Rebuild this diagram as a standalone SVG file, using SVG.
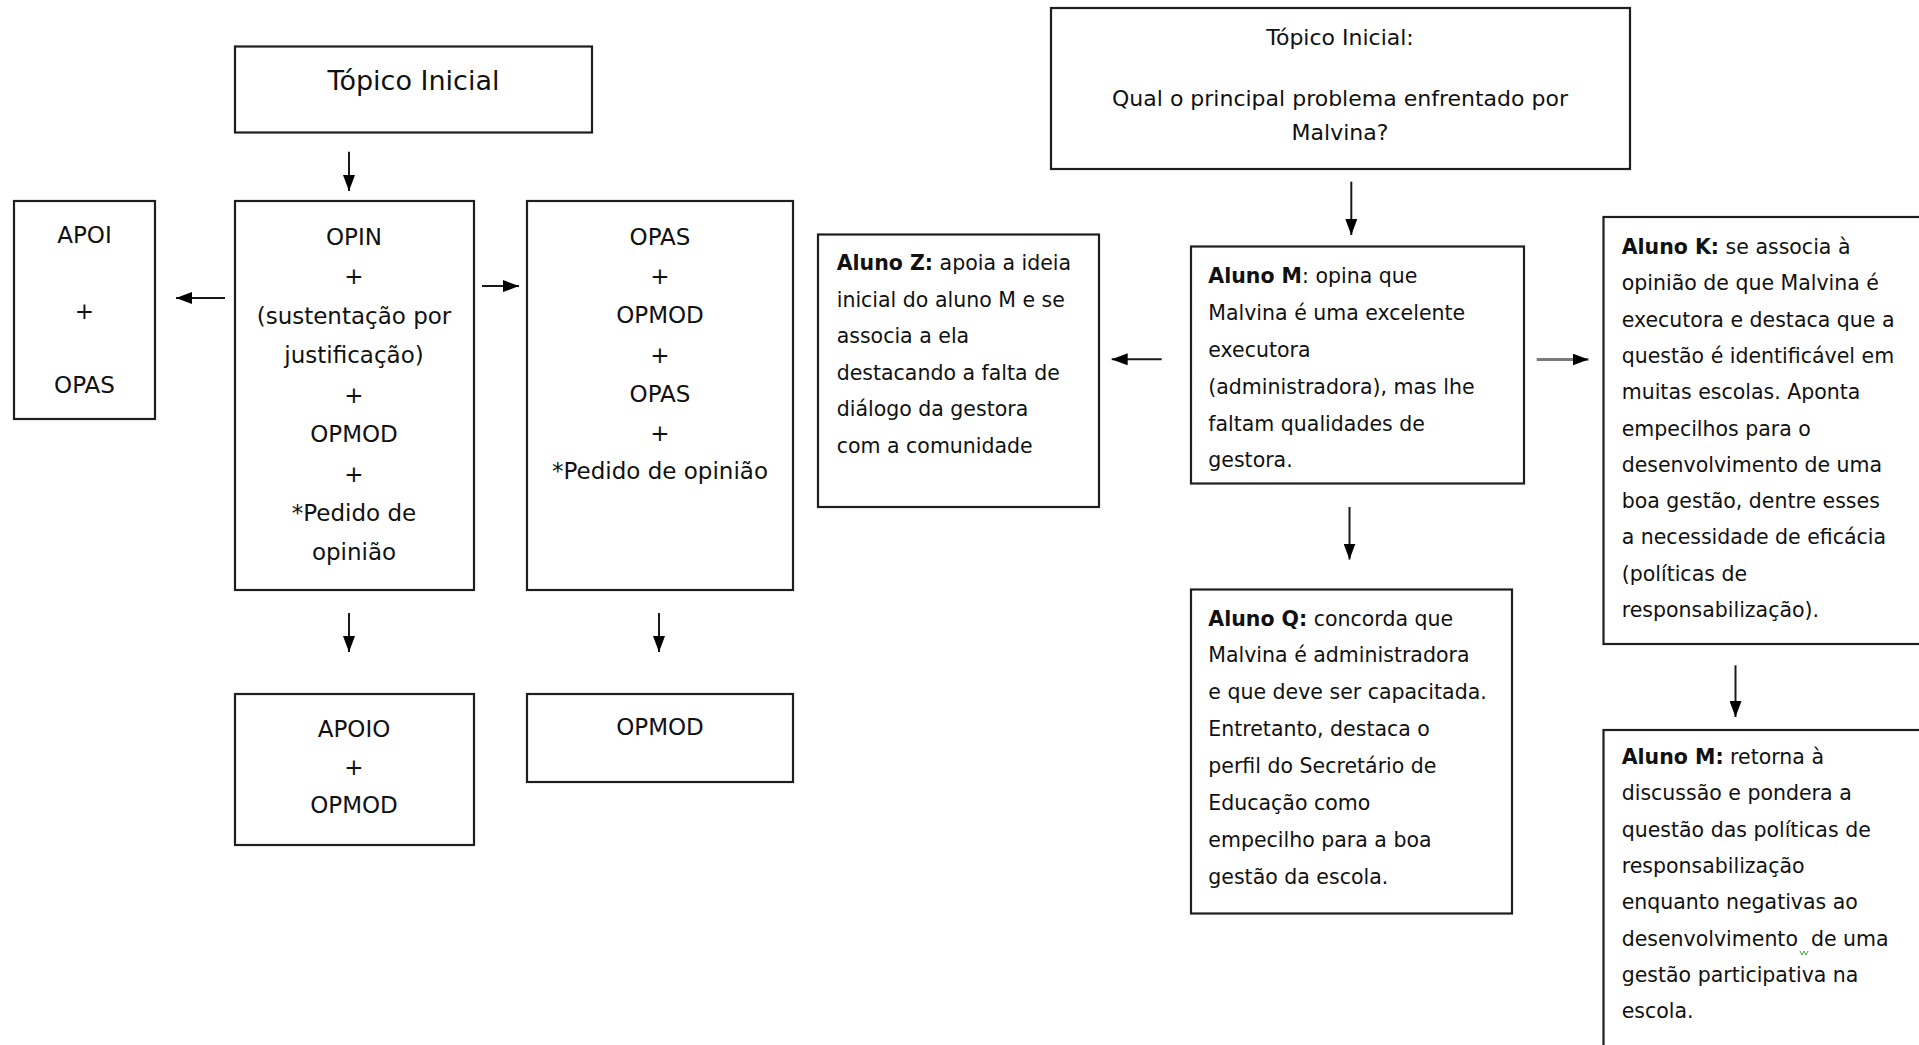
<svg xmlns="http://www.w3.org/2000/svg" width="1919" height="1045" viewBox="0 0 1919 1045">
<defs>
<style>
.box{fill:#fff;stroke:#1e1e1e;stroke-width:2.2}
.tl{font-family:"DejaVu Sans",sans-serif;font-size:23px;text-anchor:middle;fill:#111}
.tt{font-family:"DejaVu Sans",sans-serif;font-size:22px;text-anchor:middle;fill:#111}
.tb{font-family:"DejaVu Sans",sans-serif;font-size:20.5px;fill:#111}
.b{font-weight:bold}
.arr{stroke:#1a1a1a;stroke-width:2;fill:none;marker-end:url(#ah)}
.arrg{stroke:#7a7a7a;stroke-width:3;fill:none;marker-end:url(#ah)}
</style>
<marker id="ah" viewBox="0 0 16 12" refX="16" refY="6" markerWidth="16" markerHeight="12" markerUnits="userSpaceOnUse" orient="auto">
<path d="M0,0 L16,6 L0,12 Z" fill="#000"/>
</marker>
</defs>
<rect x="0" y="0" width="1919" height="1045" fill="#fff"/>

<g id="l-topico">
<rect class="box" x="235" y="46.5" width="357" height="86"/>
<text class="tl" x="413.5" y="90" style="font-size:27px">Tópico Inicial</text>
</g>
<g id="l-apoi">
<rect class="box" x="14" y="201" width="141" height="218"/>
<text class="tl" x="84.5" y="243">APOI</text>
<text class="tl" x="84.5" y="318.5">+</text>
<text class="tl" x="84.5" y="393">OPAS</text>
</g>
<g id="l-opin">
<rect class="box" x="235" y="201" width="239" height="389"/>
<text class="tl" x="354" y="245">OPIN</text>
<text class="tl" x="354" y="284">+</text>
<text class="tl" x="354" y="324">(sustentação por</text>
<text class="tl" x="354" y="363">justificação)</text>
<text class="tl" x="354" y="403">+</text>
<text class="tl" x="354" y="442">OPMOD</text>
<text class="tl" x="354" y="481.5">+</text>
<text class="tl" x="354" y="521">*Pedido de</text>
<text class="tl" x="354" y="560">opinião</text>
</g>
<g id="l-opas">
<rect class="box" x="527" y="201" width="266" height="389"/>
<text class="tl" x="660" y="245">OPAS</text>
<text class="tl" x="660" y="284">+</text>
<text class="tl" x="660" y="323">OPMOD</text>
<text class="tl" x="660" y="362.5">+</text>
<text class="tl" x="660" y="401.5">OPAS</text>
<text class="tl" x="660" y="441">+</text>
<text class="tl" x="660" y="479">*Pedido de opinião</text>
</g>
<g id="l-apoio">
<rect class="box" x="235" y="694" width="239" height="151"/>
<text class="tl" x="354" y="737">APOIO</text>
<text class="tl" x="354" y="775">+</text>
<text class="tl" x="354" y="812.5">OPMOD</text>
</g>
<g id="l-opmod">
<rect class="box" x="527" y="694" width="266" height="88"/>
<text class="tl" x="660" y="734.5">OPMOD</text>
</g>

<g id="r-topico">
<rect class="box" x="1051" y="8" width="579" height="161"/>
<text class="tt" x="1340" y="45">Tópico Inicial:</text>
<text class="tt" x="1340" y="106">Qual o principal problema enfrentado por</text>
<text class="tt" x="1340" y="140">Malvina?</text>
</g>
<g id="r-aluno-z">
<rect class="box" x="818" y="234.5" width="281" height="272.5"/>
<text class="tb">
<tspan x="836.7" y="270"><tspan class="b">Aluno Z:</tspan> apoia a ideia</tspan>
<tspan x="836.7" y="306.5">inicial do aluno M e se</tspan>
<tspan x="836.7" y="343">associa a ela</tspan>
<tspan x="836.7" y="379.5">destacando a falta de</tspan>
<tspan x="836.7" y="416">diálogo da gestora</tspan>
<tspan x="836.7" y="452.5">com a comunidade</tspan>
</text>
</g>
<g id="r-aluno-m">
<rect class="box" x="1191" y="246.5" width="333" height="237"/>
<text class="tb">
<tspan x="1208.3" y="283"><tspan class="b">Aluno M</tspan>: opina que</tspan>
<tspan x="1208.3" y="320">Malvina é uma excelente</tspan>
<tspan x="1208.3" y="356.5">executora</tspan>
<tspan x="1208.3" y="394">(administradora), mas lhe</tspan>
<tspan x="1208.3" y="431">faltam qualidades de</tspan>
<tspan x="1208.3" y="467">gestora.</tspan>
</text>
</g>
<g id="r-aluno-k">
<rect class="box" x="1603.5" y="217" width="330" height="427"/>
<text class="tb">
<tspan x="1621.7" y="254"><tspan class="b">Aluno K:</tspan> se associa à</tspan>
<tspan x="1621.7" y="290.3">opinião de que Malvina é</tspan>
<tspan x="1621.7" y="326.6">executora e destaca que a</tspan>
<tspan x="1621.7" y="362.9">questão é identificável em</tspan>
<tspan x="1621.7" y="399.2">muitas escolas. Aponta</tspan>
<tspan x="1621.7" y="435.5">empecilhos para o</tspan>
<tspan x="1621.7" y="471.8">desenvolvimento de uma</tspan>
<tspan x="1621.7" y="508.1">boa gestão, dentre esses</tspan>
<tspan x="1621.7" y="544.4">a necessidade de eficácia</tspan>
<tspan x="1621.7" y="580.7">(políticas de</tspan>
<tspan x="1621.7" y="617">responsabilização).</tspan>
</text>
</g>
<g id="r-aluno-q">
<rect class="box" x="1191" y="589.5" width="321" height="324"/>
<text class="tb">
<tspan x="1208.3" y="625.5"><tspan class="b">Aluno Q:</tspan> concorda que</tspan>
<tspan x="1208.3" y="662.4">Malvina é administradora</tspan>
<tspan x="1208.3" y="699.3">e que deve ser capacitada.</tspan>
<tspan x="1208.3" y="736.2">Entretanto, destaca o</tspan>
<tspan x="1208.3" y="773.1">perfil do Secretário de</tspan>
<tspan x="1208.3" y="810">Educação como</tspan>
<tspan x="1208.3" y="846.9">empecilho para a boa</tspan>
<tspan x="1208.3" y="883.8">gestão da escola.</tspan>
</text>
</g>
<g id="r-aluno-m2">
<rect class="box" x="1603.5" y="730" width="330" height="330"/>
<text class="tb">
<tspan x="1621.7" y="764"><tspan class="b">Aluno M:</tspan> retorna à</tspan>
<tspan x="1621.7" y="800.3">discussão e pondera a</tspan>
<tspan x="1621.7" y="836.6">questão das políticas de</tspan>
<tspan x="1621.7" y="872.9">responsabilização</tspan>
<tspan x="1621.7" y="909.2">enquanto negativas ao</tspan>
<tspan x="1621.7" y="945.5">desenvolvimento&#160; de uma</tspan>
<tspan x="1621.7" y="981.8">gestão participativa na</tspan>
<tspan x="1621.7" y="1018.1">escola.</tspan>
</text>
<polyline points="1800,951 1802,955 1804,951 1806,955 1808,951" fill="none" stroke="#3aa63a" stroke-width="1"/>
</g>

<g id="connectors">
<line class="arr" x1="349" y1="151.7" x2="349" y2="191"/>
<line class="arr" x1="225" y1="298" x2="176" y2="298"/>
<line class="arr" x1="482" y1="286" x2="519" y2="286"/>
<line class="arr" x1="349" y1="613" x2="349" y2="652"/>
<line class="arr" x1="659" y1="613" x2="659" y2="652"/>
<line class="arr" x1="1351.3" y1="181.7" x2="1351.3" y2="235"/>
<line class="arr" x1="1161.7" y1="359.3" x2="1111.7" y2="359.3"/>
<line class="arrg" x1="1536.7" y1="359.5" x2="1588.5" y2="359.5"/>
<line class="arr" x1="1349.5" y1="507" x2="1349.5" y2="559.5"/>
<line class="arr" x1="1735.5" y1="665.3" x2="1735.5" y2="717"/>
</g>
</svg>
